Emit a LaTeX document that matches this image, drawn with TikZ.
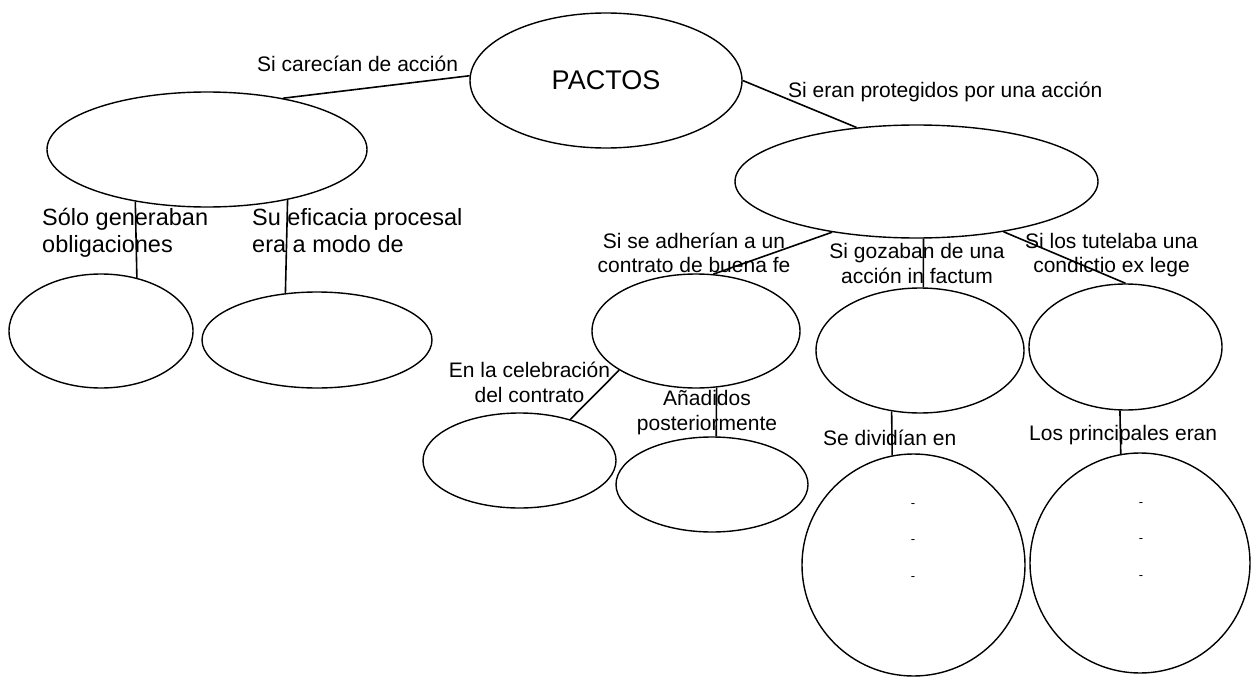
\documentclass[tikz,border=0pt]{standalone}
\usepackage{fontspec}
\setmainfont{Liberation Sans}
\usetikzlibrary{shapes.geometric}
\begin{document}
\begin{tikzpicture}[x=1pt,y=-1pt,
  bub/.style={draw, ellipse, line width=1.4pt, inner sep=0pt},
  con/.style={line width=1.6pt},
  lab/.style={inner sep=0pt, font=\fontsize{21}{24}\selectfont},
  labtall/.style={inner sep=0pt, font=\fontsize{21}{25}\selectfont},
  labbig/.style={inner sep=0pt, font=\fontsize{23.5}{27}\selectfont},
  dashcol/.style={inner sep=0pt, align=center, font=\fontsize{13}{36.5}\selectfont}]
\fill[white] (0,0) rectangle (1251,677);
\useasboundingbox (0,0) rectangle (1251,677);

% bubbles
\node[bub, minimum width=272pt, minimum height=135pt, font=\fontsize{27}{32}\selectfont] (pactos) at (606,80.5) {PACTOS};
\node[bub, minimum width=320pt, minimum height=115pt] (L) at (207,149.5) {};
\node[bub, minimum width=363pt, minimum height=113pt] (B) at (916.5,181.5) {};
\node[bub, minimum width=184pt, minimum height=114pt] (L1) at (101,331) {};
\node[bub, minimum width=230pt, minimum height=96pt] (L2) at (317,340) {};
\node[bub, minimum width=208pt, minimum height=114pt] (M) at (696,331) {};
\node[bub, minimum width=208pt, minimum height=125pt] (F) at (920,350.5) {};
\node[bub, minimum width=193pt, minimum height=126pt] (C) at (1125.5,347) {};
\node[bub, minimum width=193pt, minimum height=95pt] (E) at (519.5,460.5) {};
\node[bub, minimum width=192pt, minimum height=95pt] (A) at (712,484.5) {};
\node[bub, minimum width=223pt, minimum height=222pt] (D1) at (913.5,565) {};
\node[bub, minimum width=220pt, minimum height=220pt] (D2) at (1140,563) {};

% labels (multi-line nodes: base anchor = baseline of last line)
\node[lab, anchor=base west] (t1) at (257,72) {Si carecían de acción};
\node[lab, anchor=base west] (t2) at (788,97) {Si eran protegidos por una acción};
\node[labbig, anchor=base west, align=left] (t3) at (42,252) {Sólo generaban\\obligaciones};
\node[labbig, anchor=base west, align=left] (t4) at (252,252) {Su eficacia procesal\\era a modo de};
\node[lab, anchor=base, align=center] (t5) at (694,272) {Si se adherían a un\\contrato de buena fe};
\node[labtall, anchor=base, align=center] (t6) at (917,283) {Si gozaban de una\\acción in factum};
\node[lab, anchor=base, align=center] (t7) at (1111.5,272) {Si los tutelaba una\\condictio ex lege};
\node[labtall, anchor=base, align=center] (t8) at (529.5,402) {En la celebración\\del contrato};
\node[labtall, anchor=base, align=center] (t9) at (707,430) {Añadidos\\posteriormente};
\node[lab, anchor=base west] (t10) at (823,445) {Se dividían en};
\node[lab, anchor=base west] (t11) at (1029,440) {Los principales eran};
\node[dashcol, anchor=base] (d1) at (913,580) {-\\-\\-};
\node[dashcol, anchor=base] (d2) at (1141,579) {-\\-\\-};

% connectors
\draw[con] (L.34) -- (pactos.178);
\draw[con] (pactos.east) -- (B.138);
\draw[con] (L.-144) -- (L1.56);
\draw[con] (L.-32) -- (L2.124);
\draw[con] (B.-149) -- (M.73);
\draw[con] (B.-83) -- (F.87);
\draw[con] (B.-30) -- (C.north);
\draw[con] (M.-153) -- (E.39);
\draw[con] (M.-70) -- (A.85);
\draw[con] (F.-115) -- (D1.101);
\draw[con] (C.-95) -- (D2.100);
\end{tikzpicture}
\end{document}
